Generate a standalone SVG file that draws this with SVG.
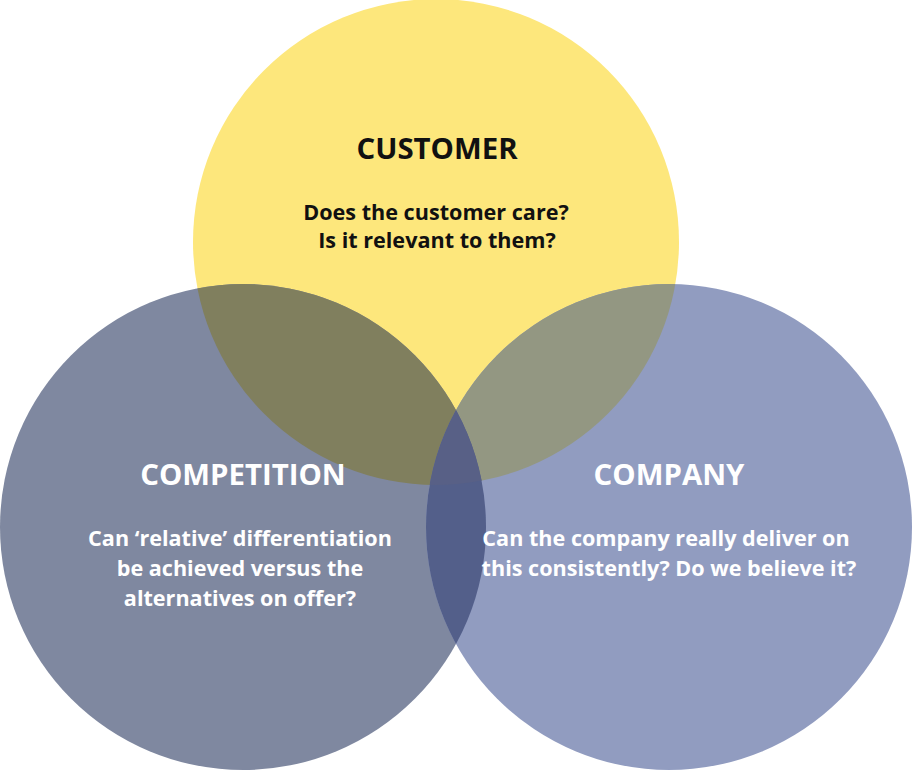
<svg xmlns="http://www.w3.org/2000/svg" width="912" height="771" viewBox="0 0 912 771">
<style>
.h{font-family:"Open Sans","Noto Sans",sans-serif;font-weight:700;font-size:29.4px;text-anchor:middle}
.t{font-family:"Open Sans","Noto Sans",sans-serif;font-weight:700;font-size:21.6px;text-anchor:middle}
.w{fill:#ffffff}
.k{fill:#111111}
</style>
<defs>
<clipPath id="cy"><circle cx="436" cy="242" r="243"/></clipPath>
<clipPath id="cl"><circle cx="243" cy="527" r="243"/></clipPath>
<clipPath id="cr"><circle cx="669" cy="527" r="243"/></clipPath>
</defs>
<rect width="912" height="771" fill="#ffffff"/>
<g id="circles">
<circle cx="436" cy="242" r="243" fill="#FDE77C"/>
<circle cx="243" cy="527" r="243" fill="#7F88A0"/>
<circle cx="669" cy="527" r="243" fill="#919CC0"/>
<circle cx="243" cy="527" r="243" fill="#807F5E" clip-path="url(#cy)"/>
<circle cx="669" cy="527" r="243" fill="#939782" clip-path="url(#cy)"/>
<circle cx="669" cy="527" r="243" fill="#535F8A" clip-path="url(#cl)"/>
<g clip-path="url(#cy)"><circle cx="669" cy="527" r="243" fill="#586086" clip-path="url(#cl)"/></g>
</g>
<g id="customer">
<text class="h k" x="437" y="159">CUSTOMER</text>
<text class="t k" x="436" y="220">Does the customer care?</text>
<text class="t k" x="437" y="248">Is it relevant to them?</text>
</g>
<g id="competition">
<text class="h w" x="243" y="485">COMPETITION</text>
<text class="t w" x="240" y="546">Can ‘relative’ differentiation</text>
<text class="t w" x="240" y="576">be achieved versus the</text>
<text class="t w" x="240" y="606">alternatives on offer?</text>
</g>
<g id="company">
<text class="h w" x="669" y="485">COMPANY</text>
<text class="t w" x="666" y="546">Can the company really deliver on</text>
<text class="t w" x="669" y="576">this consistently? Do we believe it?</text>
</g>
<g id="connectors"></g>
</svg>
